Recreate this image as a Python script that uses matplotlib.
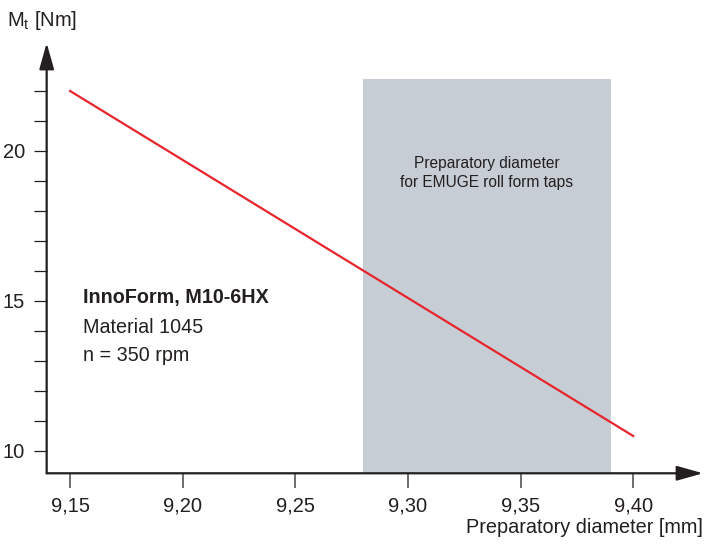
import matplotlib
matplotlib.use("Agg")
import matplotlib.pyplot as plt

plt.rcParams['font.family'] = ['Liberation Sans', 'DejaVu Sans']

# ===================== DADOS =====================
diametro = [9.15, 9.40]
torque = [22.0, 10.5]
faixa_emuge = (9.28, 9.39)
faixa_topo = 22.4
x_ticks = [9.15, 9.20, 9.25, 9.30, 9.35, 9.40]
x_labels = ["9,15", "9,20", "9,25", "9,30", "9,35", "9,40"]
y_ticks = list(range(10, 23))
y_labels = [str(v) if v % 5 == 0 else "" for v in y_ticks]

cor_linha = "#e8242c"
cor_faixa = "#c6cdd4"
cor_eixo = "#231f20"

# ===================== FIGURA =====================
fig = plt.figure(figsize=(7.05, 5.44), dpi=100)
ax = fig.add_axes([0.0662, 0.130, 0.931, 0.791])

y_min, y_max = 9.257, 23.6
ax.set_xlim(9.1396, 9.431)
ax.set_ylim(y_min, y_max)

ax.axvspan(faixa_emuge[0], faixa_emuge[1], ymin=0, ymax=(faixa_topo - y_min) / (y_max - y_min),
           color=cor_faixa, lw=0, zorder=0)
ax.plot(diametro, torque, color=cor_linha, lw=1.6, zorder=3)

for s in ax.spines.values():
    s.set_visible(False)

# eixos com setas
seta = dict(arrowstyle="-|>,head_length=1.6,head_width=0.45",
            color=cor_eixo, lw=1.6, shrinkA=0, shrinkB=0)
ax.annotate("", xy=(1, 0), xytext=(0, 0), xycoords="axes fraction", arrowprops=seta)
ax.annotate("", xy=(0, 1), xytext=(0, 0), xycoords="axes fraction", arrowprops=seta)

ax.set_xticks(x_ticks)
ax.set_xticklabels(x_labels)
ax.set_yticks(y_ticks)
ax.set_yticklabels(y_labels)
ax.tick_params(axis="x", direction="out", length=11, width=1.2, color="#555555",
               labelsize=14.5, pad=6, labelcolor=cor_eixo)
ax.tick_params(axis="y", direction="out", length=9.5, width=0.9, color=cor_eixo,
               labelsize=14.5, pad=6, labelcolor=cor_eixo)

# rótulos
fig.text(0.010, 0.963, r"M$_\mathregular{t}$ [Nm]", fontsize=14.5, color=cor_eixo,
         ha="left", va="center")
fig.text(0.997, 0.031, "Preparatory diameter [mm]", fontsize=14.3, color=cor_eixo,
         ha="right", va="center")

ax.text(9.1556, 15.1, "InnoForm, M10-6HX", fontsize=14.2, fontweight="bold",
        color=cor_eixo, ha="left", va="center")
ax.text(9.1556, 14.1, "Material 1045", fontsize=14.2, color=cor_eixo, ha="left", va="center")
ax.text(9.1556, 13.17, "n = 350 rpm", fontsize=14.2, color=cor_eixo, ha="left", va="center")

ax.text(sum(faixa_emuge) / 2, 19.27, "Preparatory diameter\nfor EMUGE roll form taps",
        fontsize=11.2, color=cor_eixo, ha="center", va="center", linespacing=1.3)

fig.savefig("out.png", dpi=100)
